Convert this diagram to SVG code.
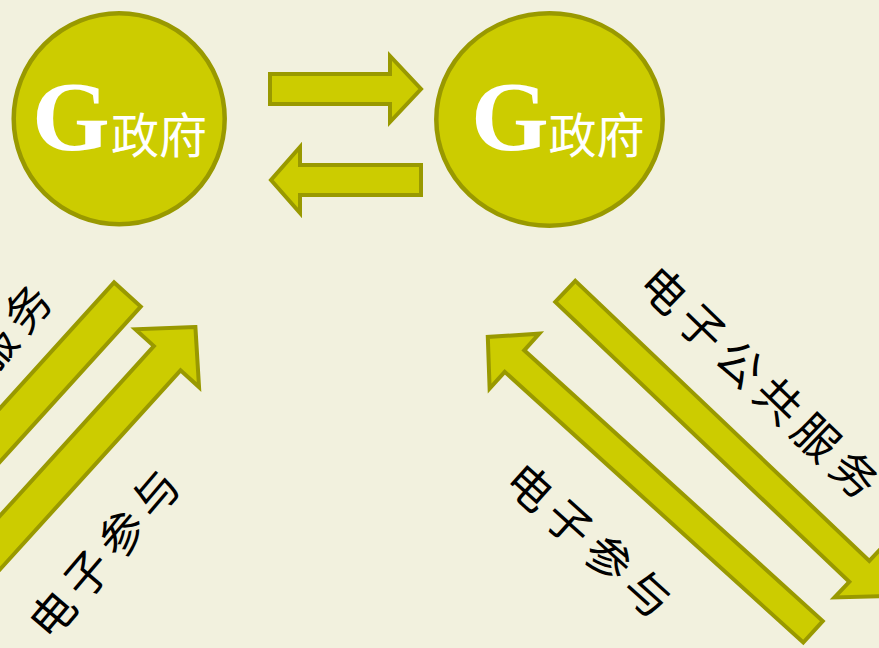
<svg xmlns="http://www.w3.org/2000/svg" width="879" height="648" viewBox="0 0 879 648">
<style>
.bg{fill:#F2F1DE}
.node{fill:#CCCC00;stroke:#999900;stroke-width:4.5}
.arrow{fill:#CCCC00;stroke:#999900;stroke-width:4;stroke-linejoin:miter;stroke-miterlimit:10}
.g{font-family:"Liberation Serif",serif;font-weight:bold;font-size:100px;fill:#FFFFFF}
.zf{font-family:"Noto Sans CJK SC",sans-serif;font-size:48px;fill:#FFFFFF}
.lbl{font-family:"Noto Sans CJK SC",sans-serif;font-size:45px;letter-spacing:8px;fill:#000000}
</style>
<rect class="bg" x="0" y="0" width="879" height="648"/>
<g id="gov-left">
<circle class="node" cx="119.2" cy="118.8" r="105.5"/>
<text class="g" x="32" y="150">G</text>
<text class="zf" x="111" y="153">政府</text>
</g>
<g id="gov-right">
<ellipse class="node" cx="549.5" cy="119.5" rx="113.2" ry="106.2"/>
<text class="g" x="471" y="150">G</text>
<text class="zf" x="548.5" y="153">政府</text>
</g>
<g id="connectors">
<polygon class="arrow" points="270,74 390,74 390,56 421,89 390,122 390,104 270,104"/>
<polygon class="arrow" points="421,165 300,165 300,147 271,180 300,213 300,195 421,195"/>
<polygon class="arrow" transform="translate(127.4,294.5) rotate(132.2)" points="0,-18 420,-18 420,-43 462,0 420,43 420,18 0,18"/>
<polygon class="arrow" transform="translate(195.4,327.1) rotate(-47.8)" points="0,0 -42,-43 -42,-18 -440,-18 -440,18 -42,18 -42,43"/>
<polygon class="arrow" transform="translate(565.3,291.4) rotate(43.6)" points="0,-14.5 406,-14.5 406,-36 442,0 406,36 406,14.5 0,14.5"/>
<polygon class="arrow" transform="translate(487.8,336.9) rotate(222.2)" points="0,0 -36,-37 -36,-14.5 -439,-14.5 -439,14.5 -36,14.5 -36,37"/>
</g>
<g id="labels">
<text class="lbl" transform="translate(-144.6,509.8) rotate(-49.5)" x="-22.5" y="17">电子公共服务</text>
<text class="lbl" transform="translate(52.5,614) rotate(-49.5)" x="-22.5" y="17">电子参与</text>
<text class="lbl" transform="translate(664,290) rotate(44)" x="-22.5" y="17">电子公共服务</text>
<text class="lbl" transform="translate(530,487) rotate(42)" x="-22.5" y="17">电子参与</text>
</g>
</svg>
